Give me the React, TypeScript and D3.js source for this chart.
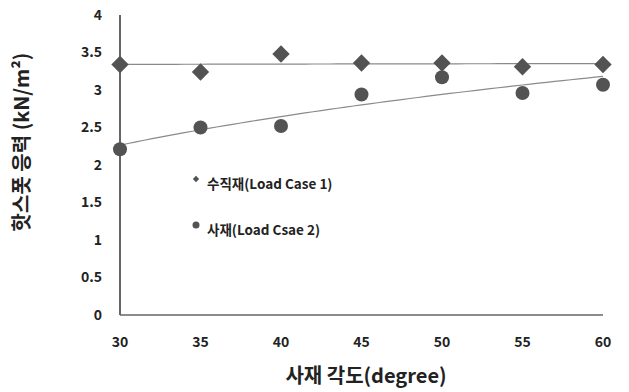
import React, { useEffect, useRef } from 'react';
import * as d3 from 'd3';

const angles = [30, 35, 40, 45, 50, 55, 60];
const verticalStress = [3.34, 3.24, 3.48, 3.36, 3.36, 3.31, 3.34]; // 수직재
const diagonalStress = [2.21, 2.5, 2.52, 2.94, 3.17, 2.96, 3.07]; // 사재
const seriesNames = ['수직재(Load Case 1)', '사재(Load Csae 2)'];
const xTicks = [30, 35, 40, 45, 50, 55, 60];
const yTicks = [0, 0.5, 1, 1.5, 2, 2.5, 3, 3.5, 4];

const FONT = '"Noto Sans CJK KR", "Noto Sans", sans-serif';
const MARK = '#535353';

// logarithmic trendline fit (like the spreadsheet's log trend)
function logFit(xs: number[], ys: number[]) {
  const lx = xs.map(Math.log);
  const mx = d3.mean(lx)!;
  const my = d3.mean(ys)!;
  const sxy = d3.sum(lx, (v, i) => (v - mx) * (ys[i] - my));
  const sxx = d3.sum(lx, v => (v - mx) * (v - mx));
  const b = sxy / sxx;
  const a = my - b * mx;
  return (x: number) => a + b * Math.log(x);
}

const App = () => {
  const svgRef = useRef<SVGSVGElement>(null);

  useEffect(() => {
    const width = 629, height = 392;
    const svg = d3.select(svgRef.current);
    svg.selectAll('*').remove();
    svg.attr('width', width).attr('height', height);

    const x = d3.scaleLinear().domain([30, 60]).range([120, 603]);
    const y = d3.scaleLinear().domain([0, 4]).range([315, 15]);

    // y tick labels
    svg.append('g')
      .selectAll('text')
      .data(yTicks)
      .enter()
      .append('text')
      .attr('x', 102)
      .attr('y', d => y(d))
      .attr('dy', '0.35em')
      .attr('text-anchor', 'end')
      .attr('font-family', FONT)
      .attr('font-weight', 'bold')
      .attr('font-size', 14)
      .attr('fill', '#222')
      .text(d => String(d));

    // x tick labels
    svg.append('g')
      .selectAll('text')
      .data(xTicks)
      .enter()
      .append('text')
      .attr('x', d => x(d))
      .attr('y', 342)
      .attr('dy', '0.35em')
      .attr('text-anchor', 'middle')
      .attr('font-family', FONT)
      .attr('font-weight', 'bold')
      .attr('font-size', 14)
      .attr('fill', '#222')
      .text(d => String(d));

    // axis lines
    svg.append('line')
      .attr('x1', x(30)).attr('x2', x(60))
      .attr('y1', y(0)).attr('y2', y(0))
      .attr('stroke', '#666').attr('stroke-width', 1.5);
    svg.append('line')
      .attr('x1', x(30)).attr('x2', x(30))
      .attr('y1', y(0)).attr('y2', y(4))
      .attr('stroke', '#666').attr('stroke-width', 2);

    // trendlines
    const samples = d3.range(30, 60.01, 0.5);
    const line = d3.line<[number, number]>().x(d => x(d[0])).y(d => y(d[1]));
    [verticalStress, diagonalStress].forEach(vals => {
      const f = logFit(angles, vals);
      svg.append('path')
        .attr('d', line(samples.map(a => [a, f(a)] as [number, number])))
        .attr('fill', 'none')
        .attr('stroke', '#8a8a8a')
        .attr('stroke-width', 1.2);
    });

    // markers: diamonds are squares turned 45°
    const diamond = d3.symbol().type(d3.symbolSquare).size(150);
    svg.append('g')
      .selectAll('path')
      .data(angles)
      .enter()
      .append('path')
      .attr('d', diamond)
      .attr('transform', (d, i) => `translate(${x(d)},${y(verticalStress[i])}) rotate(45)`)
      .attr('fill', MARK);

    svg.append('g')
      .selectAll('circle')
      .data(angles)
      .enter()
      .append('circle')
      .attr('cx', d => x(d))
      .attr('cy', (d, i) => y(diagonalStress[i]))
      .attr('r', 7)
      .attr('fill', MARK);

    // legend
    const legend = svg.append('g');
    const ly = [181, 227];
    legend.append('path')
      .attr('d', d3.symbol().type(d3.symbolSquare).size(20)())
      .attr('transform', `translate(196,${ly[0] - 2}) rotate(45)`)
      .attr('fill', MARK);
    legend.append('circle')
      .attr('cx', 196).attr('cy', ly[1] - 2).attr('r', 3.5)
      .attr('fill', MARK);
    seriesNames.forEach((name, i) => {
      legend.append('text')
        .attr('x', 207)
        .attr('y', ly[i] + 3)
        .attr('dy', '0.35em')
        .attr('font-family', FONT)
        .attr('font-weight', 'bold')
        .attr('font-size', 13.5)
        .attr('fill', '#222')
        .text(name);
    });

    // axis titles
    svg.append('text')
      .attr('x', 366)
      .attr('y', 376)
      .attr('dy', '0.35em')
      .attr('text-anchor', 'middle')
      .attr('font-family', FONT)
      .attr('font-weight', 'bold')
      .attr('font-size', 20)
      .attr('fill', '#222')
      .text('사재 각도(degree)');

    svg.append('text')
      .attr('transform', 'translate(22,142) rotate(-90)')
      .attr('dy', '0.35em')
      .attr('text-anchor', 'middle')
      .attr('font-family', FONT)
      .attr('font-weight', 'bold')
      .attr('font-size', 20)
      .attr('fill', '#222')
      .text('핫스폿 응력 (kN/m²)');
  }, []);

  return (
    <svg ref={svgRef} style={{ position: 'absolute', left: 0, top: 0, background: '#fff' }}></svg>
  );
};

export default App;
